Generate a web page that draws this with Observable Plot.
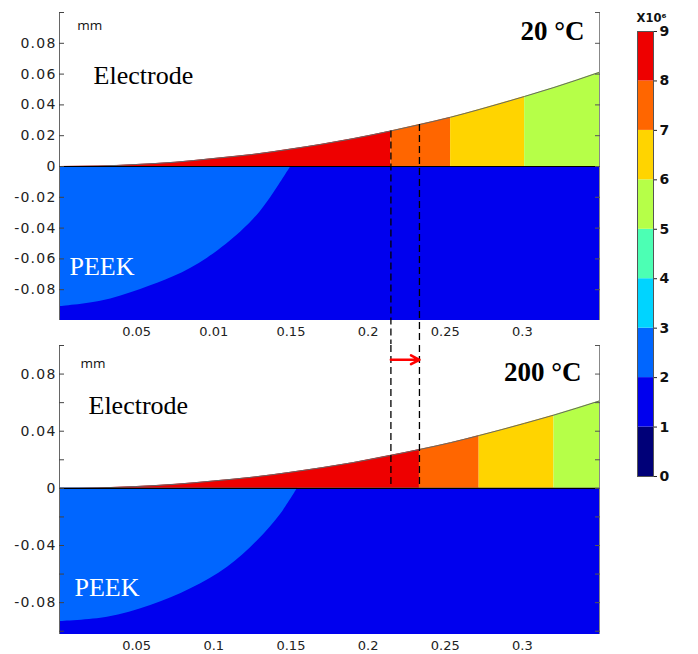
<!DOCTYPE html>
<html><head><meta charset="utf-8">
<script src="https://cdn.jsdelivr.net/npm/d3@7"></script>
<script src="https://cdn.jsdelivr.net/npm/@observablehq/plot@0.6"></script>
<style>
body{margin:0;background:#fff;}
#fig{position:relative;width:698px;height:654px;overflow:hidden;background:#fff;}
#fig > div{position:absolute;}
#toppanel g[aria-label="y-axis tick label"] text, #botpanel g[aria-label="y-axis tick label"] text{letter-spacing:1.2px;}
</style></head><body><div id="fig"><div id="toppanel" style="left:0;top:0"></div><div id="botpanel" style="left:0;top:344px"></div><div id="barpanel" style="left:600px;top:0"></div></div>
<script>
// ---------- data ----------
const levelTicks = [0, 1, 2, 3, 4, 5, 6, 7, 8, 9];
const levelColors = ["#000078", "#0000ee", "#0066ff", "#00d4ff", "#4cffb4", "#b6ff48", "#ffd400", "#ff6600", "#ee0000"];

// electrode surface (upper boundary of the gap), x and y in mm
const curveX = [0, 0.025, 0.05, 0.075, 0.1, 0.125, 0.15, 0.19, 0.2148, 0.2333, 0.2535, 0.272, 0.3015, 0.3205, 0.35];
const curveY = [0, 0.0003, 0.0013, 0.0028, 0.0052, 0.0078, 0.0113, 0.018, 0.0231, 0.0272, 0.032, 0.037, 0.0455, 0.0513, 0.0612];

// field levels of the gap bands (red, orange, yellow, green) and their x edges
const bandLevels = [8.5, 7.5, 6.5, 5.5];
const bandEdges20 = [0, 0.2148, 0.2535, 0.3015, 0.35];
const bandEdges200 = [0, 0.2333, 0.272, 0.3205, 0.35];

// boundary of the 2-3 (light blue) zone inside PEEK
const peek20X = [0, 0.0266, 0.0526, 0.0742, 0.0959, 0.1175, 0.130, 0.1392, 0.150];
const peek20Y = [-0.091, -0.0875, -0.0798, -0.0715, -0.0595, -0.0425, -0.0295, -0.0168, 0];
const peek200X = [0, 0.031, 0.0591, 0.0851, 0.1089, 0.1284, 0.1435, 0.1543];
const peek200Y = [-0.0932, -0.0902, -0.082, -0.0703, -0.0552, -0.0366, -0.0179, 0];

// triple-point shift (dashed lines)
const shiftX = [0.2148, 0.2333];

// ticks and labels
const xTicks = [0.05, 0.1, 0.15, 0.2, 0.25, 0.3];
const xLabels20 = ["0.05", "0.01", "0.15", "0.2", "0.25", "0.3"];
const xLabels200 = ["0.05", "0.1", "0.15", "0.2", "0.25", "0.3"];
const yTicks20 = [-0.08, -0.06, -0.04, -0.02, 0, 0.02, 0.04, 0.06, 0.08];
const yLabels20 = ["-0.08", "-0.06", "-0.04", "-0.02", "0", "0.02", "0.04", "0.06", "0.08"];
const yMinor20 = [-0.08, -0.06, -0.04, -0.02, 0, 0.02, 0.04, 0.06, 0.08, 0.1];
const yTicks200 = [-0.08, -0.04, 0, 0.04, 0.08];
const yLabels200 = ["-0.08", "-0.04", "0", "0.04", "0.08"];
const yMinor200 = [-0.1, -0.08, -0.06, -0.04, -0.02, 0, 0.02, 0.04, 0.06, 0.08, 0.1];
const panelTitles = ["20 °C", "200 °C"];

// ---------- helpers ----------
const colorScale = {type: "threshold", domain: levelTicks.slice(1, -1), range: levelColors};
const curve = curveX.map((x, i) => ({x, y: curveY[i]}));
const yAt = x => curveY[curveX.indexOf(x)];
function bands(edges) {
  const out = [];
  bandLevels.forEach((lv, b) => {
    const lo = edges[b], hi = edges[b + 1];
    curve.filter(p => p.x >= lo - 1e-9 && p.x <= hi + 1e-9).forEach(p => out.push({...p, band: b, level: lv}));
  });
  return out;
}
const peek = (xs, ys) => xs.map((x, i) => ({x, y: ys[i], level: 2.5}));
const X_MAX = 0.35;
const sans = "DejaVu Sans", serif = "Liberation Serif";

function panelMarks(yDom, edges, peekData) {
  return [
    Plot.rect([{level: 1.5}], {x1: 0, x2: X_MAX, y1: yDom[0], y2: 0, fill: "level"}),
    Plot.areaY(peekData, {x: "x", y1: "y", y2: 0, fill: "level", curve: "catmull-rom"}),
    Plot.areaY(bands(edges), {x: "x", y1: 0, y2: "y", z: "band", fill: "level", curve: "monotone-x"}),
    Plot.line(curve, {x: "x", y: "y", stroke: "#666", strokeWidth: 1, curve: "monotone-x"}),
    Plot.ruleY([0], {stroke: "#000", strokeWidth: 1.2}),
    Plot.ruleX([0], {y1: yDom[0], y2: yDom[1], stroke: "#666"}),
    Plot.ruleX([X_MAX], {y1: yDom[0], y2: yDom[1], stroke: "#888"})
  ];
}
const yLabelStyle = {fontSize: 14, fill: "#222", label: null};
const xLabelStyle = {fontSize: 13, fill: "#222", label: null};

const TOP_H = 344;
function makeTopPlot(gapY) {
  const yDom = [-0.1, 0.1];
  return Plot.plot({
    width: 600, height: TOP_H, marginLeft: 59, marginRight: 1, marginTop: 12, marginBottom: 24,
    x: {domain: [0, X_MAX], label: null}, y: {domain: yDom, label: null},
    color: colorScale,
    style: {fontFamily: sans, background: "transparent", overflow: "visible"},
    marks: [
      ...panelMarks(yDom, bandEdges20, peek(peek20X, peek20Y)),
      gapY == null ? null : Plot.ruleX(shiftX, {x: d => d, y1: d => yAt(d), y2: gapY, stroke: "#000", strokeWidth: 1.3, strokeDasharray: "7,4"}),
      Plot.axisY(yMinor20, {anchor: "left", tickSize: -5, tickFormat: () => "", stroke: "#444", label: null}),
      Plot.axisY(yMinor20, {anchor: "right", tickSize: -5, tickFormat: () => "", stroke: "#555", label: null}),
      Plot.axisY(yTicks20, {anchor: "left", tickSize: 0, tickPadding: 3, tickFormat: d => yLabels20[yTicks20.indexOf(d)], ...yLabelStyle}),
      Plot.axisX(xTicks, {anchor: "bottom", tickSize: 0, tickPadding: 6, tickFormat: d => xLabels20[xTicks.indexOf(d)], ...xLabelStyle}),
      Plot.text(["mm"], {x: 0.0115, y: 0.0915, text: d => d, textAnchor: "start", fontSize: 13.5, fontFamily: "Open Sans", fill: "#111"}),
      Plot.text(["Electrode"], {x: 0.0221, y: 0.059, text: d => d, textAnchor: "start", fontSize: 26, fontFamily: serif, fill: "#000"}),
      Plot.text(["PEEK"], {x: 0.0065, y: -0.0652, text: d => d, textAnchor: "start", fontSize: 26, fontFamily: serif, fill: "#fff"}),
      Plot.text([panelTitles[0]], {x: 0.3403, y: 0.0876, text: d => d, textAnchor: "end", fontSize: 27, fontWeight: "bold", fontFamily: serif, fill: "#000"})
    ]
  });
}

const probePlot = makeTopPlot(null);
const ysc = probePlot.scale("y");
const gapY = ysc.domain[0] + (TOP_H - ysc.range[0]) * (ysc.domain[1] - ysc.domain[0]) / (ysc.range[1] - ysc.range[0]);
const topSvg = makeTopPlot(gapY);
document.getElementById("toppanel").append(topSvg);

const yDomB = [-0.1023, 0.1];
const botSvg = Plot.plot({
  width: 600, height: 310, marginLeft: 59, marginRight: 1, marginTop: 1, marginBottom: 20,
  x: {domain: [0, X_MAX], label: null}, y: {domain: yDomB, label: null},
  color: colorScale,
  style: {fontFamily: sans, background: "transparent", overflow: "visible"},
  marks: [
    ...panelMarks(yDomB, bandEdges200, peek(peek200X, peek200Y)),
    Plot.ruleX(shiftX, {x: d => d, y1: yDomB[1], y2: 0, stroke: "#000", strokeWidth: 1.3, strokeDasharray: "7,4"}),
    Plot.arrow([shiftX], {x1: d => d[0], x2: d => d[1], y1: 0.09, y2: 0.09, stroke: "#f00", strokeWidth: 2.6, headLength: 12, headAngle: 55}),
    Plot.axisY(yMinor200, {anchor: "left", tickSize: -5, tickFormat: () => "", stroke: "#444", label: null}),
    Plot.axisY(yMinor200, {anchor: "right", tickSize: -5, tickFormat: () => "", stroke: "#555", label: null}),
    Plot.axisY(yTicks200, {anchor: "left", tickSize: 0, tickPadding: 3, tickFormat: d => yLabels200[yTicks200.indexOf(d)], ...yLabelStyle}),
    Plot.axisX(xTicks, {anchor: "bottom", tickSize: 0, tickPadding: 6, tickFormat: d => xLabels200[xTicks.indexOf(d)], ...xLabelStyle}),
    Plot.text(["mm"], {x: 0.0136, y: 0.0872, text: d => d, textAnchor: "start", fontSize: 13.5, fontFamily: "Open Sans", fill: "#111"}),
    Plot.text(["Electrode"], {x: 0.0188, y: 0.0578, text: d => d, textAnchor: "start", fontSize: 26, fontFamily: serif, fill: "#000"}),
    Plot.text(["PEEK"], {x: 0.0097, y: -0.0694, text: d => d, textAnchor: "start", fontSize: 26, fontFamily: serif, fill: "#fff"}),
    Plot.text([panelTitles[1]], {x: 0.3383, y: 0.0809, text: d => d, textAnchor: "end", fontSize: 27, fontWeight: "bold", fontFamily: serif, fill: "#000"})
  ]
});
document.getElementById("botpanel").append(botSvg);

const cells = levelColors.map((c, i) => ({lo: levelTicks[i], hi: levelTicks[i + 1], level: levelTicks[i] + 0.5}));
const barSvg = Plot.plot({
  width: 98, height: 654, marginLeft: 37, marginRight: 45, marginTop: 31, marginBottom: 178,
  x: {domain: [0, 1], axis: null}, y: {domain: [0, 9], label: null},
  color: colorScale,
  style: {fontFamily: sans, background: "transparent", overflow: "visible"},
  marks: [
    Plot.rect(cells, {x1: 0, x2: 1, y1: "lo", y2: "hi", fill: "level"}),
    Plot.frame({stroke: "#555"}),
    Plot.axisY(levelTicks, {anchor: "right", tickSize: 3, tickPadding: 3, fontSize: 14, fontWeight: "bold", fill: "#111", stroke: "#222", label: null}),
    Plot.text(["X10⁶"], {frameAnchor: "top", dx: 6, dy: -18, text: d => d, fontSize: 11.5, fontWeight: "bold", fill: "#111"})
  ]
});
document.getElementById("barpanel").append(barSvg);
</script></body></html>
